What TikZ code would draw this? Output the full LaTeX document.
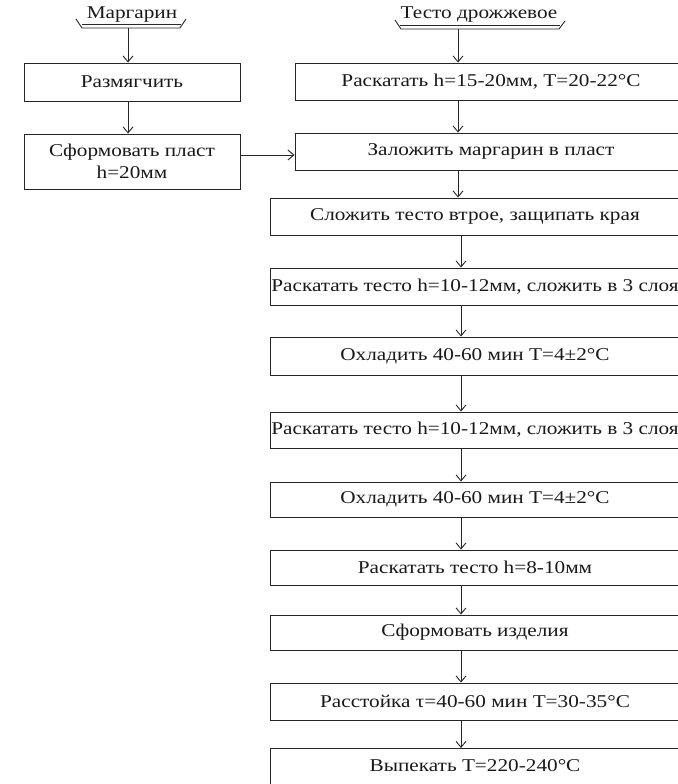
\documentclass[tikz,border=0pt]{standalone}
\usepackage{fontspec}
\setmainfont{Liberation Serif}[FakeStretch=1.18]
\usetikzlibrary{arrows.meta}
\begin{document}
\begin{tikzpicture}[x=1pt,y=-1pt,
  line width=0.9pt,
  box/.style={draw=black!85, inner sep=0pt, font=\fontsize{18}{22}\selectfont, text=black!90},
  lbox/.style={box, minimum width=216pt},
  rbox/.style={box, minimum width=410pt},
  tbox/.style={box, minimum width=392pt},
  lbl/.style={inner sep=0pt, font=\fontsize{18}{22}\selectfont, text=black!90},
  arr/.style={draw=black!85, -{Straight Barb[length=6pt,width=10pt]}}]
\useasboundingbox (0,0) rectangle (677,784);

% source labels with their brackets
\node[lbl] (marg) at (132,15) {Маргарин};
\draw[black!85] (76,19) -- (82,28) -- (180,28) -- (186,19);
\draw[black!85] (82,24.5) -- (181,24.5);
\coordinate (margb) at (128,28);

\node[lbl] (testo) at (479,15) {Тесто дрожжевое};
\draw[black!85] (395,20) -- (401,29) -- (559,29) -- (565,21);
\draw[black!85] (400,25) -- (560,25);
\coordinate (testob) at (458,29);

% margarine branch
\node[lbox, minimum height=38pt] (razm) at (132,82) {Размягчить};
\node[lbox, minimum height=55pt, align=center] (plast) at (132,161.5) {Сформовать пласт\\h=20мм};

% dough branch
\node[tbox, minimum height=37pt] (r1) at (491,81.5) {Раскатать h=15-20мм, T=20-22°C};
\node[tbox, minimum height=37pt] (r2) at (491,151.5) {Заложить маргарин в пласт};
\node[rbox, minimum height=37pt] (r3) at (475,216.5) {Сложить тесто втрое, защипать края};
\node[rbox, minimum height=37pt] (r4) at (475,286.5) {Раскатать тесто h=10-12мм, сложить в 3 слоя};
\node[rbox, minimum height=38pt] (r5) at (475,356) {Охладить 40-60 мин T=4±2°C};
\node[rbox, minimum height=36pt] (r6) at (475,430) {Раскатать тесто h=10-12мм, сложить в 3 слоя};
\node[rbox, minimum height=35pt] (r7) at (475,499.5) {Охладить 40-60 мин T=4±2°C};
\node[rbox, minimum height=35pt] (r8) at (475,567.5) {Раскатать тесто h=8-10мм};
\node[rbox, minimum height=35pt] (r9) at (475,632.5) {Сформовать изделия};
\node[rbox, minimum height=37pt] (r10) at (475,701.5) {Расстойка τ=40-60 мин T=30-35°C};
\node[rbox, minimum height=42pt, anchor=north] (r11) at (475,748) {};
\node[lbl] (r11t) at (475,766) {Выпекать T=220-240°C};

% arrow spines
\coordinate (sl) at (128,0);
\coordinate (sa) at (458,0);
\coordinate (sb) at (461,0);

\draw[arr] (margb) -- (razm.north -| sl);
\draw[arr] (razm.south -| sl) -- (plast.north -| sl);
\draw[arr] (plast.east |- 0,155) -- (r2.west |- 0,155);

\draw[arr] (testob) -- (r1.north -| sa);
\draw[arr] (r1.south -| sa) -- (r2.north -| sa);
\draw[arr] (r2.south -| sa) -- (r3.north -| sa);
\draw[arr] (r3.south -| sb) -- (r4.north -| sb);
\draw[arr] (r4.south -| sb) -- (r5.north -| sb);
\draw[arr] (r5.south -| sb) -- (r6.north -| sb);
\draw[arr] (r6.south -| sb) -- (r7.north -| sb);
\draw[arr] (r7.south -| sb) -- (r8.north -| sb);
\draw[arr] (r8.south -| sb) -- (r9.north -| sb);
\draw[arr] (r9.south -| sb) -- (r10.north -| sb);
\draw[arr] (r10.south -| sb) -- (r11.north -| sb);
\end{tikzpicture}
\end{document}
